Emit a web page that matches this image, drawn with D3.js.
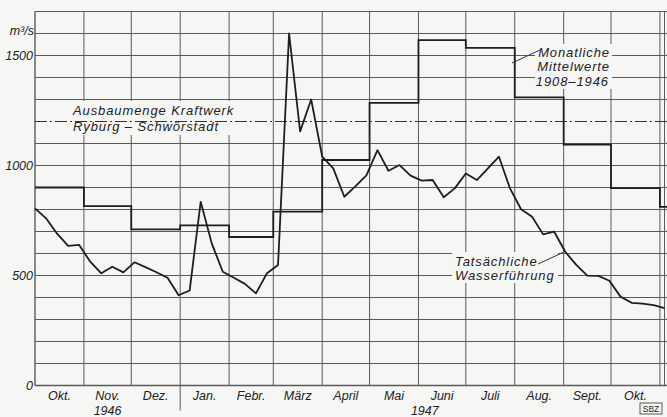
<!DOCTYPE html>
<html><head><meta charset="utf-8">
<script src="https://cdn.jsdelivr.net/npm/d3@7"></script>
<style>
html,body{margin:0;padding:0;background:#f6f6f4;}
svg{display:block;}
text{font-family:"Liberation Sans",Arial,sans-serif;font-style:italic;fill:#222;}
</style>
</head><body>
<svg id="c" width="667" height="417"></svg>
<script>
// ---- data ----
const monthStarts = ["1946-10-01","1946-11-01","1946-12-01","1947-01-01","1947-02-01","1947-03-01","1947-04-01","1947-05-01","1947-06-01","1947-07-01","1947-08-01","1947-09-01","1947-10-01","1947-11-01"];
const monthLabels = ["Okt.","Nov.","Dez.","Jan.","Febr.","März","April","Mai","Juni","Juli","Aug.","Sept.","Okt."];
// Monatliche Mittelwerte 1908-1946 (m3/s), one per month start
const meanValues = [900,815,710,728,675,790,1025,1285,1570,1535,1310,1095,897,812];
// Tatsächliche Wasserführung, weekly values from 1946-10-01
const flowStart = "1946-10-01";
const flowValues = [805,760,690,635,639,563,510,540,514,560,538,515,490,410,432,835,646,517,490,462,419,510,548,1600,1155,1300,1040,987,858,905,955,1070,976,1002,954,931,934,856,896,964,934,987,1040,896,801,767,687,699,608,548,499,498,476,404,376,372,365,352];
const capacity = 1200; // Ausbaumenge Kraftwerk Ryburg-Schwörstadt
const yTickValues = [0,500,1000,1500];
const yMax = 1700;
const yearLabels = [{t:"1946", d:"1946-11-16"},{t:"1947", d:"1947-06-05"}];
const yearBreak = "1947-01-01";

// ---- setup ----
const parse = d3.timeParse("%Y-%m-%d");
const W = 667, H = 417;
const svg = d3.select("#c");
const bg = "#f6f6f4";
const x = d3.scaleTime().domain([parse("1946-10-01"), parse("1947-10-01")]).range([35, 611]);
const y = d3.scaleLinear().domain([0, yMax]).range([385.5, 11.5]);
const xEnd = x.invert(W);
const months = monthStarts.map(parse);

// gridlines
const grid = svg.append("g").attr("stroke","#5a5a5a").attr("stroke-width",1).attr("fill","none");
grid.selectAll("line.h").data(y.ticks(17).filter(v => v !== capacity)).join("line")
  .attr("x1", x(months[0])).attr("x2", W)
  .attr("y1", d => y(d)).attr("y2", d => y(d))
  .attr("stroke-width", d => d === 0 ? 1.4 : 1);
grid.selectAll("line.v").data(months).join("line")
  .attr("x1", d => x(d)).attr("x2", d => x(d))
  .attr("y1", y(0)).attr("y2", y(yMax))
  .attr("stroke-width", (d,i) => i === 0 ? 1.4 : 1);
grid.append("line").attr("x1", W-2.5).attr("x2", W-2.5).attr("y1", y(0)).attr("y2", y(yMax));
// year separator
grid.append("line").attr("x1", x(parse(yearBreak))).attr("x2", x(parse(yearBreak)))
  .attr("y1", y(0)).attr("y2", y(0)+25);

// label backgrounds
const boxes = [[68,101,170,34],[535,44,77,45],[452,252,106,31]];
svg.append("g").selectAll("rect").data(boxes).join("rect")
  .attr("x", d=>d[0]).attr("y", d=>d[1]).attr("width", d=>d[2]).attr("height", d=>d[3]).attr("fill", bg);

// capacity dash-dot
svg.append("line").attr("x1", x(months[0])).attr("x2", W)
  .attr("y1", y(capacity)).attr("y2", y(capacity))
  .attr("stroke","#333").attr("stroke-width",1.2).attr("stroke-dasharray","12,3,2,3");

// monthly means step line
const meanPts = meanValues.map((v,i) => ({d: months[i], v}));
meanPts.push({d: xEnd, v: meanValues[meanValues.length-1]});
svg.append("path").datum(meanPts)
  .attr("d", d3.line().x(p => x(p.d)).y(p => y(p.v)).curve(d3.curveStepAfter))
  .attr("fill","none").attr("stroke","#1e1e1e").attr("stroke-width",1.8);

// actual flow
const fs = parse(flowStart);
const flowPts = flowValues.map((v,i) => ({d: d3.timeDay.offset(fs, 7*i), v}));
svg.append("path").datum(flowPts)
  .attr("d", d3.line().x(p => x(p.d)).y(p => y(p.v)))
  .attr("fill","none").attr("stroke","#1e1e1e").attr("stroke-width",1.8).attr("stroke-linejoin","round");

// y labels
const yl = svg.append("g").attr("font-size", 12.5).attr("text-anchor","end");
yl.selectAll("text").data(yTickValues).join("text")
  .attr("x", 33).attr("y", d => y(d)).attr("dy","0.36em").text(d => d);
yl.append("text").attr("x", 34).attr("y", 35).text("m³/s");

// month labels
svg.append("g").attr("font-size", 12.5).attr("text-anchor","middle")
  .selectAll("text").data(monthLabels).join("text")
  .attr("x", (d,i) => (x(months[i]) + x(months[i+1]))/2)
  .attr("y", 400).text(d => d);
svg.append("g").attr("font-size", 12.5).attr("text-anchor","middle")
  .selectAll("text").data(yearLabels).join("text")
  .attr("x", d => x(parse(d.d))).attr("y", 415).text(d => d.t);

// annotations
const ann = svg.append("g").attr("font-size", 13).attr("letter-spacing", 0.9);
ann.append("text").attr("x", 73).attr("y", 115).text("Ausbaumenge Kraftwerk");
ann.append("text").attr("x", 73).attr("y", 131).text("Ryburg – Schwörstadt");
ann.append("text").attr("x", 610).attr("y", 57).attr("text-anchor","end").text("Monatliche");
ann.append("text").attr("x", 610).attr("y", 71).attr("text-anchor","end").text("Mittelwerte");
ann.append("text").attr("x", 609).attr("y", 86).attr("text-anchor","end").text("1908–1946");
ann.append("text").attr("x", 455).attr("y", 266).text("Tatsächliche");
ann.append("text").attr("x", 455).attr("y", 280).text("Wasserführung");
// leader lines
svg.append("line").attr("x1", 512).attr("y1", 63).attr("x2", 540).attr("y2", 50).attr("stroke","#333").attr("stroke-width",1);
svg.append("line").attr("x1", 538).attr("y1", 264).attr("x2", 564).attr("y2", 252).attr("stroke","#333").attr("stroke-width",1);

// SBZ mark
svg.append("rect").attr("x", 640).attr("y", 403).attr("width", 22).attr("height", 11).attr("fill","none").attr("stroke","#333").attr("stroke-width",0.8);
svg.append("text").attr("x", 651).attr("y", 412).attr("text-anchor","middle").attr("font-size", 8.5).style("font-style","normal").text("SBZ");
</script>
</body></html>
